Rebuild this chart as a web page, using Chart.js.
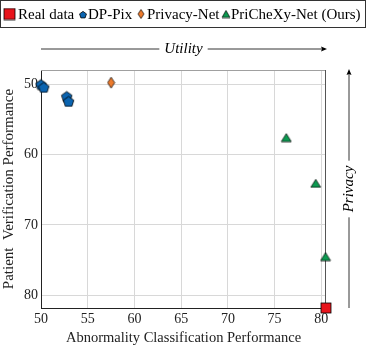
<!DOCTYPE html>
<html><head><meta charset="utf-8">
<script src="https://cdn.jsdelivr.net/npm/chart.js@4/dist/chart.umd.min.js"></script>
<style>html,body{margin:0;padding:0;background:#fff}#wrap{width:366px;height:347px}</style>
</head><body><div id="wrap"><canvas id="c" width="366" height="347"></canvas></div>
<script>
const seriesNames = ["Real data", "DP-Pix", "Privacy-Net", "PriCheXy-Net (Ours)"];
const realX = [80.5], realY = [81.8];
const dpX = [50.0, 50.3, 52.75, 52.95], dpY = [50.0, 50.4, 51.7, 52.4];
const pnX = [57.5], pnY = [49.8];
const pcX = [76.25, 79.4, 80.45], pcY = [57.6, 64.1, 74.5];
const xTicks = [50, 55, 60, 65, 70, 75, 80];
const yTicks = [50, 60, 70, 80];

const FONT = "'Liberation Serif', 'DejaVu Serif', serif";
const colors = {real:'#e8141c', dp:'#0b64b0', pn:'#ec7a2c', pc:'#0b9a50'};

function mk(w,h,fn){const c=document.createElement('canvas');c.width=w;c.height=h;const g=c.getContext('2d');fn(g);return c;}
function pentagon(fill,r){const s=Math.ceil(r*2+2);return mk(s,s,g=>{g.beginPath();for(let i=0;i<5;i++){const a=-Math.PI/2+i*2*Math.PI/5;const x=s/2+r*Math.cos(a),y=s/2+1+r*Math.sin(a);i?g.lineTo(x,y):g.moveTo(x,y);}g.closePath();g.fillStyle=fill;g.fill();g.lineWidth=0.8;g.strokeStyle='#000';g.stroke();});}
function diamond(fill,w,h){return mk(w+2,h+2,g=>{g.beginPath();g.moveTo(w/2+1,1);g.lineTo(w+1,h/2+1);g.lineTo(w/2+1,h+1);g.lineTo(1,h/2+1);g.closePath();g.fillStyle=fill;g.fill();g.lineWidth=0.7;g.strokeStyle='#000';g.stroke();});}
function triangle(fill,w,h){return mk(w+2,h+2,g=>{g.beginPath();g.moveTo(w/2+1,1);g.lineTo(w+1,h+1);g.lineTo(1,h+1);g.closePath();g.fillStyle=fill;g.fill();g.lineWidth=0.7;g.strokeStyle='#000';g.stroke();});}
function square(fill,s){return mk(s+2,s+2,g=>{g.fillStyle=fill;g.fillRect(1,1,s,s);g.lineWidth=0.8;g.strokeStyle='#000';g.strokeRect(1,1,s,s);});}

const icons = {
  real: square(colors.real,10),
  dp: pentagon(colors.dp,5.5),
  pn: diamond(colors.pn,7,11),
  pc: triangle(colors.pc,10,8)
};
const legIcons = {
  real: square(colors.real,11),
  dp: pentagon(colors.dp,3.6),
  pn: diamond(colors.pn,6,9),
  pc: triangle(colors.pc,8,7)
};
const zip=(xs,ys)=>xs.map((x,i)=>({x,y:ys[i]}));

const frame = {
  id:'frame',
  beforeDatasetsDraw(chart){
    const g=chart.ctx,a=chart.chartArea;g.save();
    g.lineWidth=1;
    g.strokeStyle='#a0a0a0';g.beginPath();g.moveTo(a.left,a.top+0.5);g.lineTo(a.right,a.top+0.5);g.stroke();
    g.strokeStyle='#555';g.beginPath();g.moveTo(a.right-0.5,a.top);g.lineTo(a.right-0.5,a.bottom);g.stroke();
    g.restore();
  }
};

const decor = {
  id:'decor',
  afterDraw(chart){
    const g=chart.ctx, a=chart.chartArea;
    g.save();
    // legend
    g.strokeStyle='#333';g.lineWidth=1;g.strokeRect(0.5,0.5,365,27);
    g.font="15px "+FONT;g.fillStyle='#000';g.textBaseline='middle';
    const items=[['real',seriesNames[0],3,18],['dp',seriesNames[1],78,88],['pn',seriesNames[2],137,147],['pc',seriesNames[3],221,231]];
    const cy=14;
    items.forEach(([k,t,ix,tx])=>{const ic=legIcons[k];g.drawImage(ic,ix,cy-ic.height/2);g.fillText(t,tx,cy+1);});
    // Utility arrow
    const uy=49;g.strokeStyle='#000';g.lineWidth=0.8;
    g.font="italic 15px "+FONT;g.textAlign='center';
    const mid=(a.left+a.right)/2;const tw=g.measureText('Utility').width;
    g.beginPath();g.moveTo(a.left,uy);g.lineTo(mid-tw/2-5,uy);g.moveTo(mid+tw/2+5,uy);g.lineTo(a.right-1,uy);g.stroke();
    g.beginPath();g.moveTo(a.right+1,uy);g.lineTo(a.right-5,uy-2.5);g.lineTo(a.right-4,uy);g.lineTo(a.right-5,uy+2.5);g.closePath();g.fillStyle='#000';g.fill();
    g.fillText('Utility',mid,uy);
    // Privacy arrow
    const px=349;const pmid=(a.top+a.bottom)/2;const pw=g.measureText('Privacy').width;
    g.beginPath();g.moveTo(px,a.bottom);g.lineTo(px,pmid+pw/2+5);g.moveTo(px,pmid-pw/2-5);g.lineTo(px,a.top+1);g.stroke();
    g.beginPath();g.moveTo(px,a.top-1);g.lineTo(px-2.5,a.top+5);g.lineTo(px,a.top+4);g.lineTo(px+2.5,a.top+5);g.closePath();g.fill();
    g.translate(px,pmid);g.rotate(-Math.PI/2);g.fillText('Privacy',0,0);
    g.restore();
  }
};

new Chart(document.getElementById('c'),{
  type:'scatter',
  data:{datasets:[
    {label:seriesNames[1],data:zip(dpX,dpY),pointStyle:icons.dp,clip:false},
    {label:seriesNames[2],data:zip(pnX,pnY),pointStyle:icons.pn,clip:false},
    {label:seriesNames[3],data:zip(pcX,pcY),pointStyle:icons.pc,clip:false},
    {label:seriesNames[0],data:zip(realX,realY),pointStyle:icons.real,clip:false}
  ]},
  options:{
    responsive:false,animation:false,
    layout:{padding:{top:70,right:40,left:0,bottom:0}},
    plugins:{legend:{display:false},tooltip:{enabled:false}},
    scales:{
      x:{type:'linear',min:50,max:80.5,
        afterBuildTicks:s=>{s.ticks=xTicks.map(v=>({value:v}));},
        afterFit:s=>{s.height=39;},
        grid:{color:'#d8d8d8',drawTicks:false,lineWidth:1},
        border:{color:'#222',width:1},
        ticks:{padding:3,color:'#222',font:{family:FONT,size:14},maxRotation:0},
        title:{display:true,text:'Abnormality Classification Performance',color:'#222',font:{family:FONT,size:14.5},padding:{top:0,bottom:0}}},
      y:{type:'linear',reverse:true,min:48,max:81.8,
        afterBuildTicks:s=>{s.ticks=yTicks.map(v=>({value:v}));},
        afterFit:s=>{s.width=41;},
        grid:{color:'#d8d8d8',drawTicks:false,lineWidth:1},
        border:{color:'#222',width:1},
        ticks:{padding:3,color:'#222',font:{family:FONT,size:14}},
        title:{display:true,text:'Patient\u2002Verification Performance',color:'#222',font:{family:FONT,size:15},padding:{top:0,bottom:1}}}
    }
  },
  plugins:[frame,decor]
});
</script></body></html>
